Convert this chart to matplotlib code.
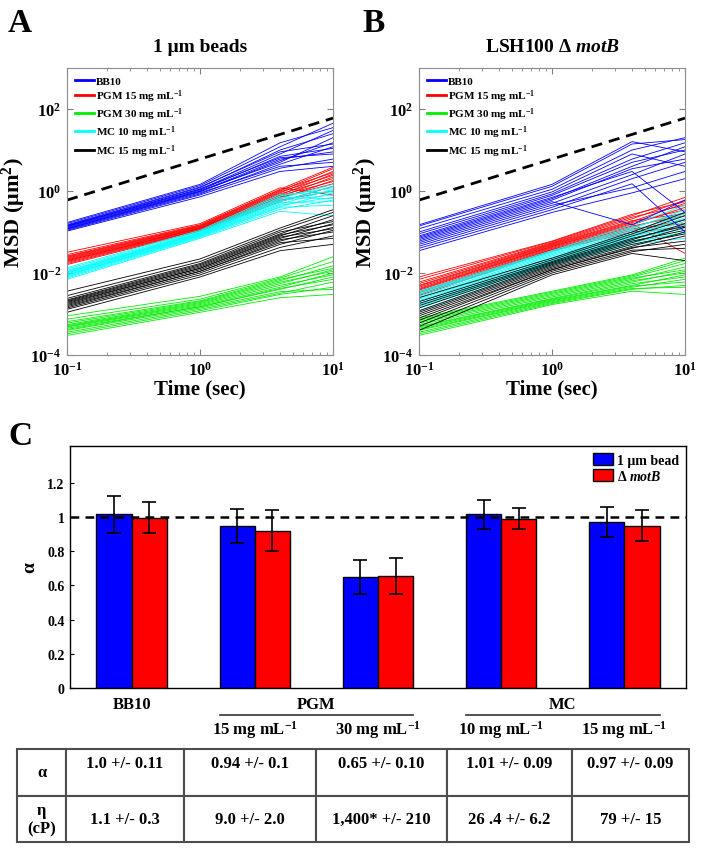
import numpy as np
import matplotlib
matplotlib.use('Agg')
import matplotlib.pyplot as plt
from matplotlib.lines import Line2D
from matplotlib.patches import Patch
from matplotlib.ticker import FixedLocator, FixedFormatter, NullLocator

plt.rcParams['font.family'] = ['Liberation Serif', 'DejaVu Serif']
plt.rcParams['font.weight'] = 'bold'
plt.rcParams['axes.titleweight'] = 'bold'
plt.rcParams['axes.labelweight'] = 'bold'
plt.rcParams['mathtext.fontset'] = 'custom'
plt.rcParams['mathtext.rm'] = 'Liberation Serif:bold'
plt.rcParams['mathtext.bf'] = 'Liberation Serif:bold'
plt.rcParams['mathtext.it'] = 'Liberation Serif:italic:bold'
plt.rcParams['mathtext.default'] = 'rm'

# ---- MSD traces: each row = MSD (um^2) at msd_times ----
msd_times = [0.1, 1, 4, 10]
ref_times = [0.1, 10]
ref_msd = [0.6, 60]   # slope-1 guide line

beads_bb10 = [
    [0.105, 0.72, 3.0, 4.0], [0.11, 0.80, 3.6, 6.0], [0.115, 0.85, 4.5, 12],
    [0.12, 0.90, 4.0, 5.0], [0.12, 0.95, 5.5, 15], [0.125, 0.98, 6.0, 9.0],
    [0.13, 1.00, 5.0, 20], [0.135, 1.05, 7.0, 11], [0.14, 1.10, 8.0, 30],
    [0.14, 1.12, 6.5, 8.0], [0.145, 1.20, 10, 25], [0.15, 1.25, 9.0, 14],
    [0.16, 1.35, 12, 45], [0.17, 1.45, 15, 35],
]
beads_pgm15 = [
    [0.016, 0.105, 0.55, 1.3], [0.017, 0.11, 0.60, 1.0], [0.018, 0.112, 0.65, 1.8],
    [0.019, 0.115, 0.70, 1.5], [0.020, 0.12, 0.72, 2.2], [0.020, 0.122, 0.78, 1.7],
    [0.021, 0.125, 0.80, 2.6], [0.022, 0.128, 0.85, 2.0], [0.023, 0.132, 0.90, 3.0],
    [0.024, 0.136, 0.95, 2.4], [0.025, 0.14, 1.0, 3.5], [0.026, 0.145, 1.05, 2.8],
    [0.028, 0.15, 1.1, 3.8], [0.032, 0.16, 1.2, 0.8],
]
beads_pgm30 = [
    [0.0003, 0.0011, 0.0025, 0.003], [0.00033, 0.0012, 0.003, 0.0045],
    [0.00036, 0.0013, 0.0032, 0.006], [0.0004, 0.0014, 0.0035, 0.004],
    [0.00042, 0.0015, 0.004, 0.008], [0.00045, 0.0015, 0.0042, 0.007],
    [0.00048, 0.0016, 0.0045, 0.010], [0.0005, 0.0017, 0.005, 0.009],
    [0.00052, 0.0018, 0.0055, 0.012], [0.00055, 0.0019, 0.006, 0.011],
    [0.0006, 0.0020, 0.0065, 0.015], [0.00065, 0.0021, 0.007, 0.013],
    [0.00075, 0.0023, 0.0075, 0.019], [0.0009, 0.0027, 0.008, 0.025],
]
beads_mc10 = [
    [0.007, 0.070, 0.32, 0.25], [0.0075, 0.074, 0.36, 0.6], [0.008, 0.077, 0.40, 0.45],
    [0.0085, 0.080, 0.42, 0.9], [0.0088, 0.082, 0.45, 0.7], [0.009, 0.085, 0.48, 1.1],
    [0.0095, 0.087, 0.52, 0.55], [0.010, 0.090, 0.55, 1.3], [0.0102, 0.092, 0.58, 0.8],
    [0.0105, 0.094, 0.62, 1.0], [0.011, 0.097, 0.66, 1.45], [0.0115, 0.100, 0.70, 0.65],
    [0.0125, 0.104, 0.76, 1.2], [0.0135, 0.110, 0.83, 0.95],
]
beads_mc15 = [
    [0.0011, 0.008, 0.035, 0.05], [0.0013, 0.009, 0.042, 0.08], [0.0014, 0.010, 0.050, 0.11],
    [0.0015, 0.011, 0.055, 0.07], [0.0016, 0.011, 0.060, 0.13], [0.0017, 0.012, 0.065, 0.10],
    [0.0018, 0.013, 0.070, 0.16], [0.0019, 0.013, 0.075, 0.12], [0.0020, 0.014, 0.080, 0.20],
    [0.0021, 0.015, 0.085, 0.15], [0.0022, 0.016, 0.090, 0.25], [0.0024, 0.017, 0.100, 0.18],
    [0.0028, 0.019, 0.110, 0.30], [0.0036, 0.022, 0.125, 0.35],
]

motb_bb10 = [
    [0.035, 0.30, 0.9, 2.0], [0.04, 0.35, 1.5, 0.1], [0.045, 0.40, 2.0, 5.0],
    [0.05, 0.45, 1.2, 3.0], [0.055, 0.50, 2.5, 8.0], [0.06, 0.55, 0.15, 0.6],
    [0.065, 0.60, 3.5, 6.0], [0.07, 0.65, 4.0, 12], [0.075, 0.70, 3.0, 0.3],
    [0.08, 0.78, 5.0, 10], [0.09, 0.85, 6.0, 15], [0.10, 0.95, 8.0, 4.0],
    [0.12, 1.10, 10, 20], [0.14, 1.30, 14, 18], [0.15, 1.45, 16, 9.0],
]
motb_pgm15 = [
    [0.0028, 0.035, 0.10, 0.13], [0.0030, 0.037, 0.11, 0.20], [0.0033, 0.038, 0.12, 0.16],
    [0.0035, 0.040, 0.13, 0.30], [0.0038, 0.042, 0.14, 0.25], [0.0040, 0.044, 0.15, 0.40],
    [0.0042, 0.045, 0.16, 0.03], [0.0045, 0.047, 0.17, 0.35], [0.0048, 0.049, 0.18, 0.50],
    [0.0050, 0.051, 0.19, 0.28], [0.0055, 0.053, 0.21, 0.60], [0.0060, 0.055, 0.23, 0.45],
    [0.0070, 0.058, 0.25, 0.70], [0.0080, 0.060, 0.27, 0.55],
]
motb_pgm30 = [
    [0.0003, 0.0017, 0.0036, 0.003], [0.00033, 0.0018, 0.004, 0.005],
    [0.00036, 0.0019, 0.0042, 0.0045], [0.0004, 0.0020, 0.0045, 0.007],
    [0.00042, 0.0021, 0.0048, 0.006], [0.00045, 0.0022, 0.005, 0.009],
    [0.00048, 0.0023, 0.0055, 0.008], [0.0005, 0.0024, 0.006, 0.011],
    [0.00055, 0.0026, 0.0065, 0.010], [0.0006, 0.0028, 0.007, 0.014],
    [0.00065, 0.0030, 0.0075, 0.012], [0.0007, 0.0032, 0.008, 0.017],
    [0.00075, 0.0034, 0.0085, 0.020], [0.0008, 0.0036, 0.009, 0.023],
]
motb_mc10 = [
    [0.0012, 0.016, 0.050, 0.07], [0.0014, 0.017, 0.055, 0.10], [0.0015, 0.018, 0.060, 0.09],
    [0.0017, 0.019, 0.065, 0.14], [0.0018, 0.020, 0.070, 0.12], [0.0020, 0.021, 0.075, 0.18],
    [0.0021, 0.023, 0.080, 0.15], [0.0023, 0.024, 0.085, 0.22], [0.0025, 0.026, 0.090, 0.20],
    [0.0027, 0.028, 0.100, 0.28], [0.0030, 0.030, 0.110, 0.25], [0.0032, 0.032, 0.120, 0.35],
    [0.0034, 0.033, 0.130, 0.30], [0.0036, 0.035, 0.150, 0.45],
]
motb_mc15 = [
    [0.0004, 0.009, 0.030, 0.02], [0.0005, 0.010, 0.033, 0.05], [0.0006, 0.011, 0.036, 0.04],
    [0.0007, 0.012, 0.040, 0.08], [0.0008, 0.012, 0.042, 0.06], [0.0009, 0.013, 0.045, 0.10],
    [0.0010, 0.014, 0.050, 0.09], [0.0011, 0.015, 0.055, 0.13], [0.0012, 0.016, 0.060, 0.11],
    [0.0014, 0.017, 0.065, 0.16], [0.0016, 0.018, 0.070, 0.14], [0.0018, 0.019, 0.080, 0.20],
    [0.0020, 0.021, 0.090, 0.25], [0.0025, 0.023, 0.100, 0.30],
]

legend_labels = ['BB10', 'PGM 15 mg mL$^{-1}$', 'PGM 30 mg mL$^{-1}$',
                 'MC 10 mg mL$^{-1}$', 'MC 15 mg mL$^{-1}$']
legend_colors = ['#0000ff', '#ff0000', '#00ee00', '#00ffff', '#000000']

# ---- alpha bars ----
groups = [1, 2, 3, 4, 5]
alpha_bead = [1.015, 0.945, 0.65, 1.015, 0.97]
alpha_bead_err = [0.11, 0.10, 0.10, 0.085, 0.09]
alpha_motb = [0.995, 0.92, 0.655, 0.99, 0.95]
alpha_motb_err = [0.09, 0.12, 0.105, 0.06, 0.09]
conc_labels = ['15 mg mL$^{-1}$', '30 mg mL$^{-1}$', '10 mg mL$^{-1}$', '15 mg mL$^{-1}$']

# ---- table ----
alpha_row = ['1.0 +/- 0.11', '0.94 +/- 0.1', '0.65 +/- 0.10', '1.01 +/- 0.09', '0.97 +/- 0.09']
eta_row = ['1.1 +/- 0.3', '9.0 +/- 2.0', '1,400* +/- 210', '26 .4 +/- 6.2', '79 +/- 15']

W, H = 704, 853
fig = plt.figure(figsize=(W / 100, H / 100), dpi=100)


def px(l, t, r, b):
    return [l / W, 1 - b / H, (r - l) / W, (b - t) / H]


def msd_panel(ax, sets, title):
    order = [2, 1, 3, 4, 0]   # green, red, cyan, black, blue on top
    for k in order:
        for row in sets[k]:
            ax.plot(msd_times, row, color=legend_colors[k], lw=0.6)
    ax.plot(ref_times, ref_msd, color='k', lw=2, dashes=(4, 2.5))
    ax.set_xscale('log')
    ax.set_yscale('log')
    ax.set_xlim(0.1, 10)
    ax.set_ylim(1e-4, 1e3)
    ax.xaxis.set_major_locator(FixedLocator([0.1, 1, 10]))
    ax.xaxis.set_major_formatter(FixedFormatter(['$10^{-1}$', '$10^{0}$', '$10^{1}$']))
    ax.yaxis.set_major_locator(FixedLocator([1e-4, 1e-2, 1, 1e2]))
    ax.yaxis.set_major_formatter(FixedFormatter(['$10^{-4}$', '$10^{-2}$', '$10^{0}$', '$10^{2}$']))
    ax.yaxis.set_minor_locator(NullLocator())
    ax.tick_params(which='both', direction='in', top=True, right=True, color='0.5',
                   labelsize=12, pad=4)
    ax.tick_params(which='major', length=4)
    ax.tick_params(which='minor', length=2)
    for s in ax.spines.values():
        s.set_color('0.55')
        s.set_linewidth(0.8)
    ax.set_xlabel('Time (sec)', fontsize=15, labelpad=0)
    ax.set_ylabel('MSD (μm$^2$)', fontsize=16, labelpad=2)
    ax.set_title(title, fontsize=14, pad=12)
    handles = [Line2D([], [], color=c, lw=2) for c in legend_colors]
    ax.legend(handles, legend_labels, loc='upper left', frameon=False, fontsize=8,
              handlelength=1.7, handletextpad=0.2, labelspacing=0.15,
              borderaxespad=0.2, borderpad=0.5)


ax_a = fig.add_axes(px(67, 69, 333, 356))
msd_panel(ax_a, [beads_bb10, beads_pgm15, beads_pgm30, beads_mc10, beads_mc15], '1 μm beads')
ax_b = fig.add_axes(px(419, 69, 685, 356))
msd_panel(ax_b, [motb_bb10, motb_pgm15, motb_pgm30, motb_mc10, motb_mc15],
          'LSH100 Δ $\\mathit{motB}$')

# ---- panel C ----
ax_c = fig.add_axes(px(70, 447, 686, 689))
bw = 0.285
xg = np.array(groups, dtype=float)
ax_c.bar(xg - bw / 2, alpha_bead, bw, color='#0000ff', edgecolor='k', lw=1,
         yerr=alpha_bead_err, capsize=5, error_kw=dict(lw=1.2, capthick=1.2))
ax_c.bar(xg + bw / 2, alpha_motb, bw, color='#ff0000', edgecolor='k', lw=1,
         yerr=alpha_motb_err, capsize=5, error_kw=dict(lw=1.2, capthick=1.2))
ax_c.axhline(1.0, color='k', lw=1.8, dashes=(3.5, 2.5), zorder=5)
ax_c.set_xlim(0.5, 5.5)
ax_c.set_ylim(0, 1.415)
ax_c.set_xticks([])
ax_c.set_yticks([0, 0.2, 0.4, 0.6, 0.8, 1.0, 1.2])
ax_c.set_yticklabels(['0', '0.2', '0.4', '0.6', '0.8', '1', '1.2'])
ax_c.tick_params(axis='y', direction='in', length=3, labelsize=10, pad=4)
ax_c.set_ylabel('α', fontsize=14, labelpad=6)
for s in ax_c.spines.values():
    s.set_linewidth(1)
ax_c.legend([Patch(facecolor='#0000ff', edgecolor='k'), Patch(facecolor='#ff0000', edgecolor='k')],
            ['1 μm bead', 'Δ $\\mathit{motB}$'], loc='upper right', frameon=False, fontsize=10,
            handlelength=1.4, handleheight=1.0, handletextpad=0.3, labelspacing=0.15,
            borderaxespad=0.3, borderpad=0.2)

tr = ax_c.get_xaxis_transform()
ax_c.text(1, -0.066, 'BB10', transform=tr, ha='center', va='center', fontsize=12)
ax_c.text(2.5, -0.066, 'PGM', transform=tr, ha='center', va='center', fontsize=12)
ax_c.text(4.5, -0.066, 'MC', transform=tr, ha='center', va='center', fontsize=12)
ax_c.plot([2 - bw, 3 + bw], [-0.112, -0.112], transform=tr, color='0.2', lw=1.2, clip_on=False)
ax_c.plot([4 - bw, 5 + bw], [-0.112, -0.112], transform=tr, color='0.2', lw=1.2, clip_on=False)
for g, lab in zip(groups[1:], conc_labels):
    ax_c.text(g, -0.17, lab, transform=tr, ha='center', va='center', fontsize=12)

# ---- table ----
ax_t = fig.add_axes(px(17, 750, 689, 843))
ax_t.axis('off')
col_w = np.array([49, 118, 132, 131, 125, 117], dtype=float)
cells = [['α'] + [v + '\n' for v in alpha_row], ['η\n(cP)'] + eta_row]
tbl = ax_t.table(cellText=cells, colWidths=list(col_w / col_w.sum()), bbox=[0, 0, 1, 1],
                 cellLoc='center')
tbl.auto_set_font_size(False)
for (r, c), cell in tbl.get_celld().items():
    cell.set_edgecolor('0.3')
    cell.set_linewidth(1.5)
    cell.get_text().set_fontsize(12)
    cell.get_text().set_fontweight('bold')

fig.text(8 / W, 1 - 23 / H, 'A', fontsize=24, fontweight='bold', va='center', ha='left')
fig.text(362 / W, 1 - 23 / H, 'B', fontsize=24, fontweight='bold', va='center', ha='left')
fig.text(8 / W, 1 - 437 / H, 'C', fontsize=24, fontweight='bold', va='center', ha='left')

fig.savefig('out.png', dpi=100)
